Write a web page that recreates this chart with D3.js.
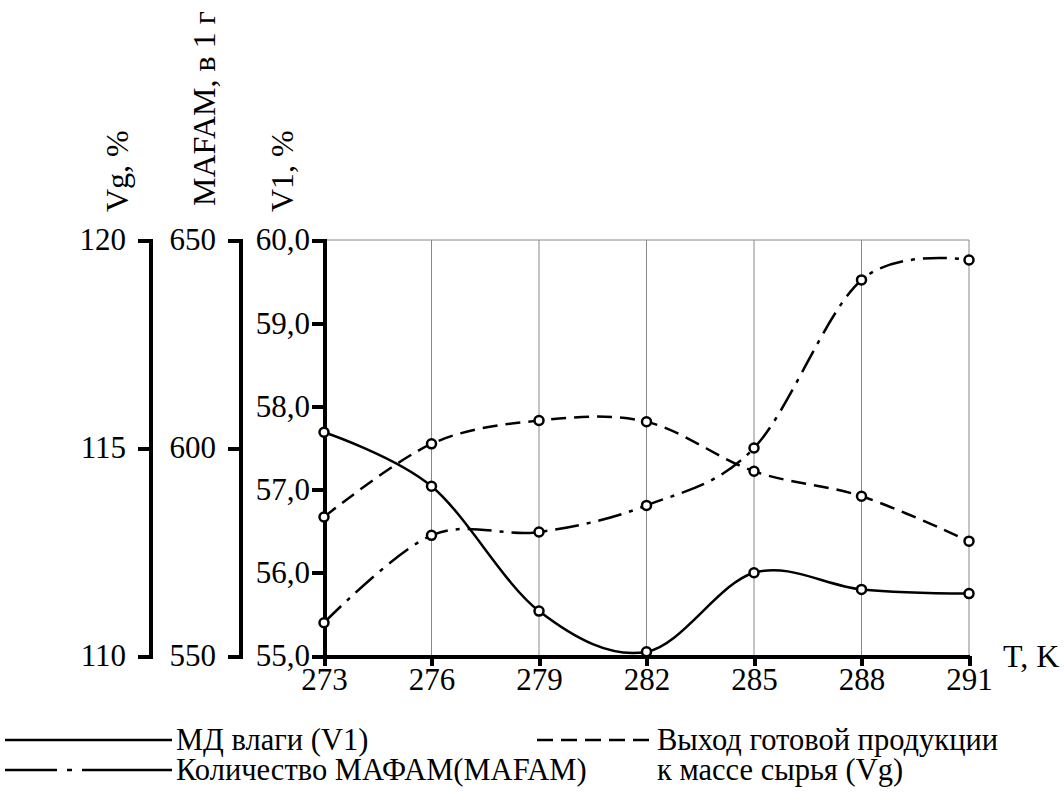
<!DOCTYPE html>
<html lang="ru">
<head>
  <meta charset="UTF-8">
  <title>V1, MAFAM, Vg vs T</title>
  <script src="https://d3js.org/d3.v7.min.js"></script>
  <style>
    body {
      margin: 0;
      background: #fff;
    }
    svg text {
      fill: #000;
      font-family: "Liberation Serif", "Times New Roman", Tinos, serif;
    }
    .axis path,
    .axis line {
      stroke: #000;
      stroke-width: 4;
      shape-rendering: crispEdges;
    }
    .grid line {
      stroke: #888;
      stroke-width: 1;
    }
    .series {
      fill: none;
      stroke: #000;
      stroke-width: 2.5;
    }
    .marker {
      fill: #fff;
      stroke: #000;
      stroke-width: 2.5;
    }
  </style>
</head>
<body>
  <div id="chart"></div>

  <script>
    // Data
    const temps = [273, 276, 279, 282, 285, 288, 291];
    const v1 = [57.69, 57.04, 55.54, 55.05, 56.0, 55.80, 55.75];           // МД влаги, %
    const mafam = [558.0, 579.0, 579.8, 586.2, 600.0, 640.4, 645.2];       // МАФАМ, в 1 г
    const vg = [113.34, 115.1, 115.66, 115.63, 114.44, 113.84, 112.76];    // выход, %

    const v1Ticks = [55, 56, 57, 58, 59, 60];
    const mafamTicks = [550, 600, 650];
    const vgTicks = [110, 115, 120];

    const FONT = '"Liberation Serif", "Times New Roman", Tinos, serif';
    const width = 1064;
    const height = 792;

    const plotTop = 240, plotBottom = 656;
    const plotLeft = 324, plotRight = 969;

    const x = d3.scaleLinear().domain([273, 291]).range([plotLeft, plotRight]);
    const yV1 = d3.scaleLinear().domain([55, 60]).range([plotBottom, plotTop]);
    const yM = d3.scaleLinear().domain([550, 650]).range([plotBottom, plotTop]);
    const yVg = d3.scaleLinear().domain([110, 120]).range([plotBottom, plotTop]);

    const svg = d3.select("#chart")
      .append("svg")
      .attr("width", width)
      .attr("height", height)
      .attr("font-family", FONT);

    // grid: vertical lines at each T, plus top border
    const grid = svg.append("g").attr("class", "grid");
    grid.selectAll("line.v")
      .data(temps)
      .enter()
      .append("line")
      .attr("class", "v")
      .attr("x1", d => x(d))
      .attr("x2", d => x(d))
      .attr("y1", plotTop)
      .attr("y2", plotBottom);
    grid.append("line")
      .attr("x1", plotLeft)
      .attr("x2", plotRight)
      .attr("y1", plotTop)
      .attr("y2", plotTop);

    const comma = d => d3.format(".1f")(d).replace(".", ",");

    function styleAxis(g) {
      g.attr("font-family", FONT).attr("font-size", 31);
      g.selectAll("text").style("font-family", FONT).style("font-size", "31px");
    }

    // left axes
    svg.append("g")
      .attr("class", "axis")
      .attr("transform", `translate(${plotLeft},0)`)
      .call(d3.axisLeft(yV1).tickValues(v1Ticks).tickFormat(comma).tickSize(12).tickSizeOuter(12).tickPadding(2))
      .call(styleAxis);

    svg.append("g")
      .attr("class", "axis")
      .attr("transform", "translate(240,0)")
      .call(d3.axisLeft(yM).tickValues(mafamTicks).tickFormat(d3.format("d")).tickSize(12).tickSizeOuter(12).tickPadding(12))
      .call(styleAxis);

    svg.append("g")
      .attr("class", "axis")
      .attr("transform", "translate(150,0)")
      .call(d3.axisLeft(yVg).tickValues(vgTicks).tickFormat(d3.format("d")).tickSize(12).tickSizeOuter(12).tickPadding(12))
      .call(styleAxis);

    // bottom axis
    svg.append("g")
      .attr("class", "axis")
      .attr("transform", `translate(0,${plotBottom})`)
      .call(d3.axisBottom(x).tickValues(temps).tickFormat(d3.format("d")).tickSize(10).tickSizeOuter(0).tickPadding(2))
      .call(styleAxis);

    // axis titles
    const titles = [
      { t: "Vg, %", x: 128, y: 212 },
      { t: "MAFAM, в 1 г", x: 215, y: 206 },
      { t: "V1, %", x: 293, y: 212 }
    ];
    svg.selectAll(".ytitle")
      .data(titles)
      .enter()
      .append("text")
      .attr("class", "ytitle")
      .attr("transform", d => `translate(${d.x},${d.y}) rotate(-90)`)
      .style("font-family", FONT)
      .style("font-size", "32px")
      .text(d => d.t);

    svg.append("text")
      .attr("x", 1003)
      .attr("y", 667)
      .style("font-family", FONT)
      .style("font-size", "32px")
      .text("T, K");

    // series
    const series = [
      { name: "v1", values: v1, y: yV1, dash: null },
      { name: "mafam", values: mafam, y: yM, dash: "24,8,4,8" },
      { name: "vg", values: vg, y: yVg, dash: "15,8" }
    ];

    const line = d3.line().curve(d3.curveCardinal.tension(0));

    series.forEach(s => {
      const pts = temps.map((t, i) => [x(t), s.y(s.values[i])]);
      svg.append("path")
        .attr("class", "series")
        .attr("d", line(pts))
        .attr("stroke-dasharray", s.dash);
      svg.selectAll(".m-" + s.name)
        .data(pts)
        .enter()
        .append("circle")
        .attr("class", "marker m-" + s.name)
        .attr("cx", d => d[0])
        .attr("cy", d => d[1])
        .attr("r", 4.5);
    });

    // legend
    const legend = [
      { x1: 5, x2: 172, y: 740, dash: null, tx: 176, lines: ["МД влаги (V1)"] },
      { x1: 5, x2: 172, y: 770, dash: "52,10,5,10,100", tx: 176, lines: ["Количество МАФАМ(MAFAM)"] },
      { x1: 537, x2: 652, y: 740, dash: "16,8", tx: 657, lines: ["Выход готовой продукции", "к массе сырья (Vg)"] }
    ];
    legend.forEach(l => {
      svg.append("line")
        .attr("x1", l.x1).attr("x2", l.x2)
        .attr("y1", l.y).attr("y2", l.y)
        .attr("stroke", "#000")
        .attr("stroke-width", 2.5)
        .attr("stroke-dasharray", l.dash);
      l.lines.forEach((txt, i) => {
        svg.append("text")
          .attr("x", l.tx)
          .attr("y", l.y + 10 + i * 30)
          .style("font-family", FONT)
          .style("font-size", "30.5px")
          .text(txt);
      });
    });
  </script>
</body>
</html>
